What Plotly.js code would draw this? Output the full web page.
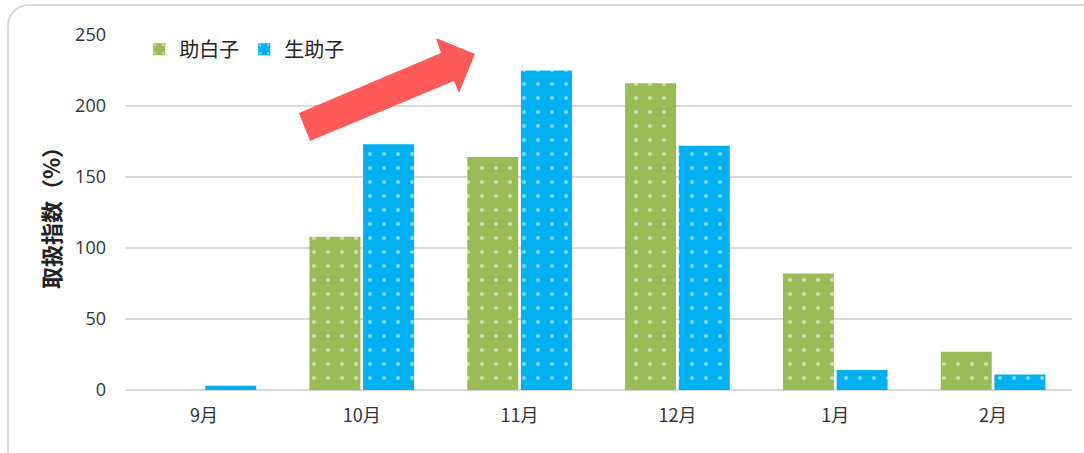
<!DOCTYPE html>
<html>
<head>
<meta charset="utf-8">
<script src="https://cdn.plot.ly/plotly-3.0.1.min.js"></script>
<style>
html,body{margin:0;padding:0;background:#fff;overflow:hidden;}
#frame{position:absolute;left:7px;top:4px;width:1100px;height:470px;border:2px solid #d9d9d9;border-radius:22px;box-sizing:border-box;}
#chart{position:absolute;left:0;top:0;width:1084px;height:453px;}
</style>
</head>
<body>
<div id="frame"></div>
<div id="chart"></div>
<script>
const categories = ["9月", "10月", "11月", "12月", "1月", "2月"];
const seriesNames = ["助白子", "生助子"];
const shirako = [0, 108, 164, 216, 82, 27];
const namako = [3, 173, 225, 172, 14, 11];
const yTicks = [0, 50, 100, 150, 200, 250];

const font = '"Noto Sans CJK JP", "Noto Sans", sans-serif';

function barTrace(name, values, color) {
  return {
    type: 'bar', name: name, x: categories, y: values,
    marker: {
      color: color,
      line: {width: 0},
      pattern: {shape: '.', fgcolor: '#ffffff', bgcolor: color, size: 14, solidity: 0.07, fillmode: 'overlay'}
    },
    hoverinfo: 'skip'
  };
}

const data = [
  barTrace(seriesNames[0], shirako, '#9BBB59'),
  barTrace(seriesNames[1], namako, '#00B0F0')
];

const layout = {
  width: 1084, height: 453,
  margin: {l: 125, r: 12, t: 35, b: 63},
  paper_bgcolor: 'rgba(0,0,0,0)',
  plot_bgcolor: 'rgba(0,0,0,0)',
  barmode: 'group',
  bargap: 0.32,
  bargroupgap: 0.05,
  showlegend: true,
  legend: {
    orientation: 'h', x: 0.015, y: 1.015, xanchor: 'left', yanchor: 'top',
    bgcolor: 'rgba(0,0,0,0)', font: {family: font, size: 20, color: '#222'},
    itemwidth: 30, tracegroupgap: 0
  },
  xaxis: {
    type: 'category',
    showgrid: false, zeroline: false, showline: false,
    ticks: '', ticklabelstandoff: 13,
    tickfont: {family: font, size: 18, color: '#333'}
  },
  yaxis: {
    range: [0, 250], tickvals: yTicks, ticktext: yTicks.map(String),
    showgrid: true, gridcolor: '#d9d9d9', gridwidth: 2,
    zeroline: true, zerolinecolor: '#d9d9d9', zerolinewidth: 2,
    showline: false, ticks: '', ticklabelstandoff: 18,
    tickfont: {family: '"Open Sans", "Noto Sans", sans-serif', size: 18, color: '#333'},
    title: {text: '取扱指数（%）', font: {family: font, size: 22, color: '#222', weight: 'bold'}, standoff: 8}
  },
  shapes: [{
    type: 'path', xref: 'paper', yref: 'paper', layer: 'above',
    path: 'M 0.1954 0.7014 L 0.1837 0.7803 L 0.3337 0.9493 L 0.3284 0.9915 L 0.3696 0.9465 L 0.3527 0.8366 L 0.3474 0.8704 Z',
    fillcolor: '#FF5A5A', line: {width: 0}
  }]
};

Plotly.newPlot('chart', data, layout, {displayModeBar: false, staticPlot: true});
</script>
</body>
</html>
